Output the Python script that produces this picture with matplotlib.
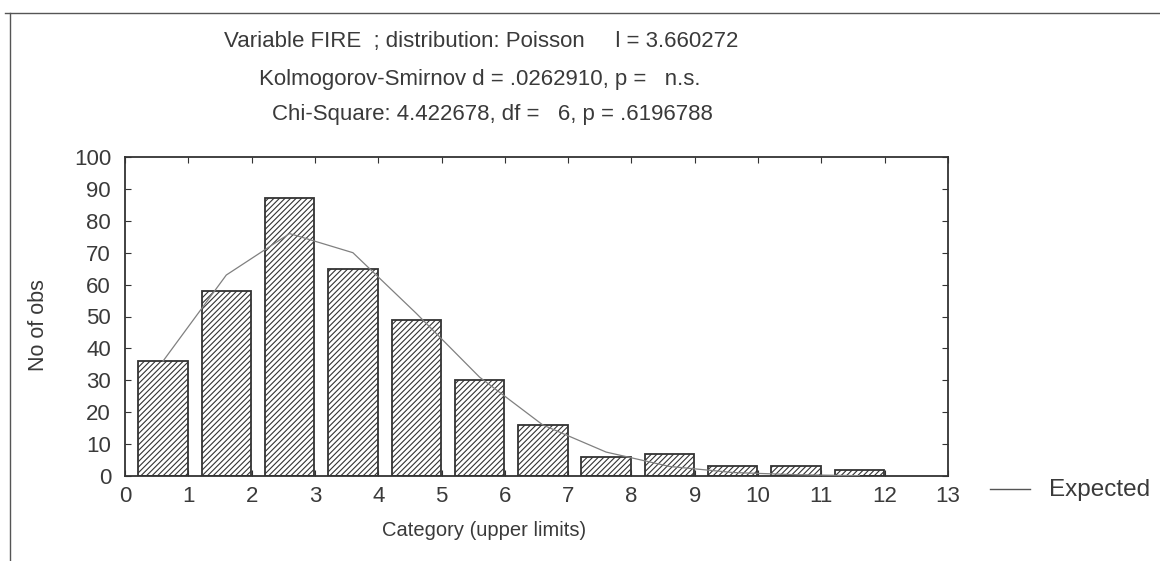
import matplotlib
matplotlib.use("Agg")
import matplotlib.pyplot as plt
from matplotlib.lines import Line2D
import numpy as np

# Data
categories = [1, 2, 3, 4, 5, 6, 7, 8, 9, 10, 11, 12]   # category upper limits
observed = [36, 58, 87, 65, 49, 30, 16, 6, 7, 3, 3, 2]
expected = [36, 63, 76, 70, 51, 31, 16, 7.5, 3, 1.1, 0.4, 0.1]
xticks = list(range(0, 14))
yticks = list(range(0, 101, 10))

title_lines = [
    "Variable FIRE  ; distribution: Poisson     l = 3.660272",
    "Kolmogorov-Smirnov d = .0262910, p =   n.s.",
    "Chi-Square: 4.422678, df =   6, p = .6196788",
]

plt.rcParams['font.family'] = ['Liberation Sans', 'DejaVu Sans']
plt.rcParams['hatch.linewidth'] = 0.8
plt.rcParams['hatch.color'] = '#444444'

fig = plt.figure(figsize=(11.6, 5.61), dpi=100)
ax = fig.add_axes([125/1160, 1 - 476/561, (948-125)/1160, (476-157)/561])

txt_col = '#3a3a3a'
width = 0.78
xs = np.array(categories, dtype=float)
ax.bar(xs - width/2 - 0.01, observed, width=width, facecolor='white',
       edgecolor='#333333', linewidth=1.3, hatch='//////')
ax.plot(xs - width/2 - 0.01, expected, color='#808080', linewidth=0.9, zorder=3)

ax.set_xlim(0, 13)
ax.set_ylim(0, 100)
ax.set_xticks(xticks)
ax.set_yticks(yticks)
ax.tick_params(direction='in', length=4, width=0.8, top=True, right=True,
               labelsize=16, colors='#333333', labelcolor=txt_col)
ax.tick_params(axis='y', pad=10)
ax.tick_params(axis='x', pad=7)
for s in ax.spines.values():
    s.set_linewidth(1.3)
    s.set_color('#333333')

fig.text(38/1160, 1 - 325/561, "No of obs", rotation=90, ha='center', va='center',
         fontsize=15.5, color=txt_col)
fig.text(484/1160, 1 - 531/561, "Category (upper limits)", ha='center', va='center',
         fontsize=14.5, color=txt_col)

baselines = [47, 85, 120]
xc = [481, 480, 492]
for t, y, x in zip(title_lines, baselines, xc):
    fig.text(x/1160, 1 - y/561, t, ha='center', va='baseline', fontsize=16, color=txt_col)

# legend
fig.add_artist(Line2D([990/1160, 1030/1160], [1 - 489/561, 1 - 489/561],
                      color='#555555', linewidth=1.0))
fig.text(1049/1160, 1 - 490/561, "Expected", ha='left', va='center',
         fontsize=17.5, color=txt_col)

# outer frame lines (scanned page border)
fig.add_artist(Line2D([5/1160, 1], [1 - 13/561, 1 - 13/561], color='#555555', linewidth=1.0))
fig.add_artist(Line2D([10/1160, 10/1160], [0, 1 - 13/561], color='#555555', linewidth=1.0))

fig.savefig("out.png", dpi=100)
